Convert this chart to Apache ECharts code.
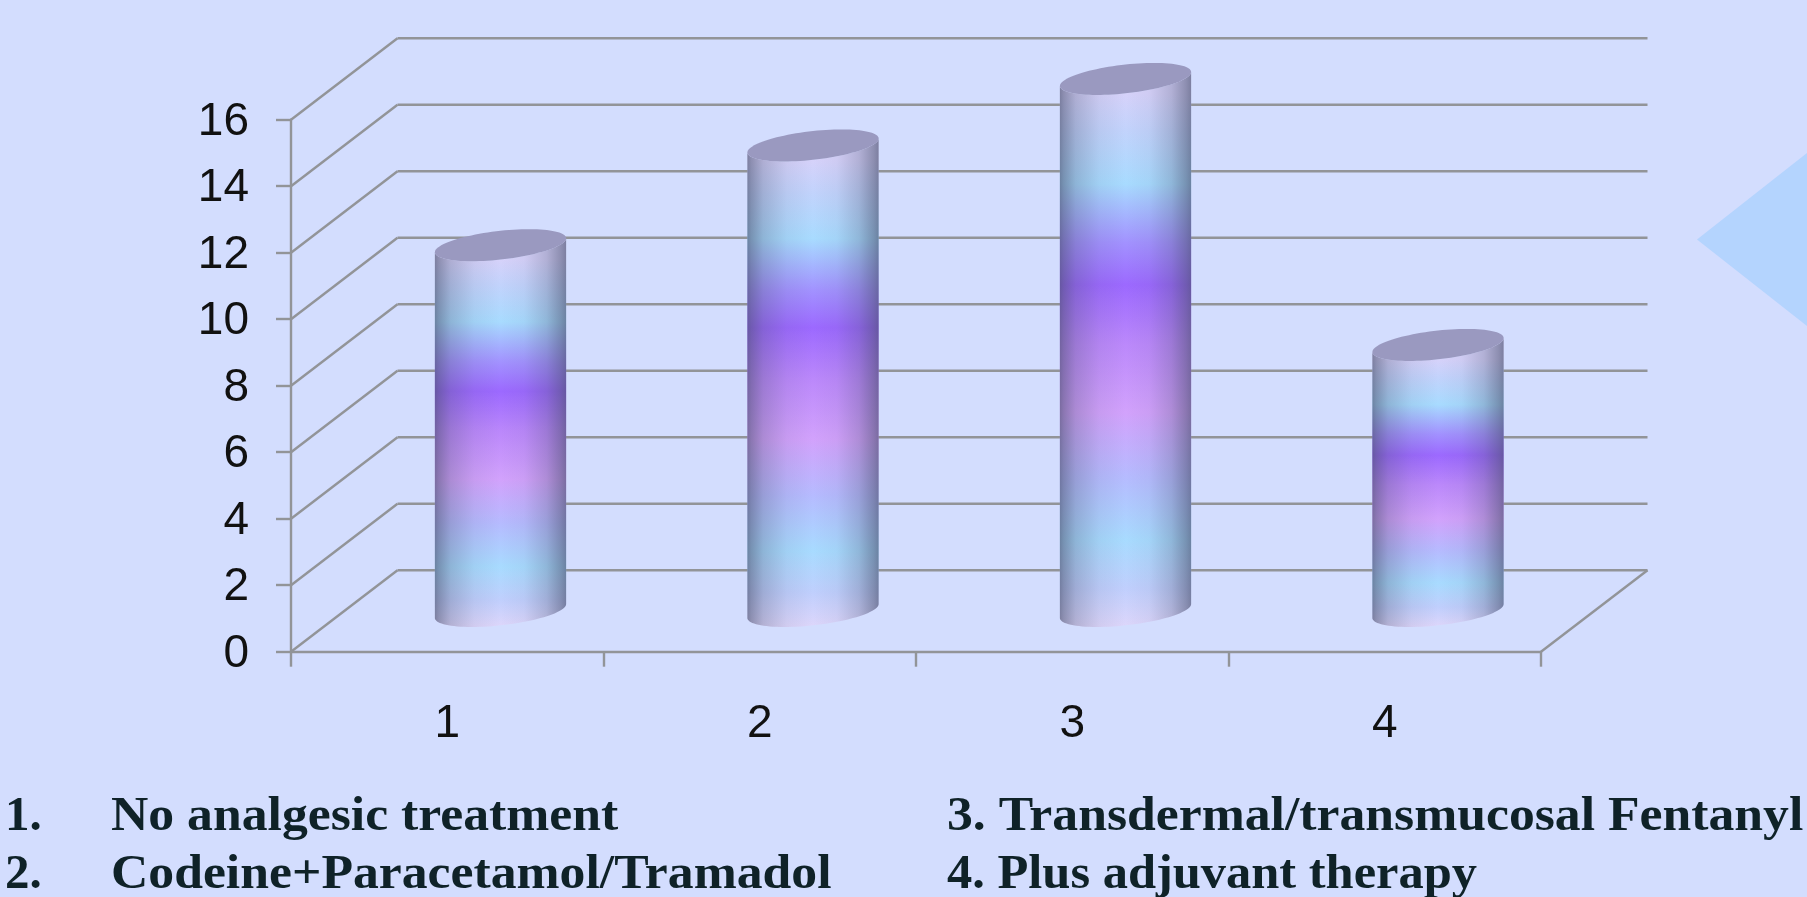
<!DOCTYPE html>
<html>
<head>
<meta charset="utf-8">
<title>Analgesic treatment groups</title>
<style>
  html, body { margin: 0; padding: 0; background: #d3ddfe; }
  #chart { width: 1807px; height: 897px; }
</style>
<script src="https://cdn.jsdelivr.net/npm/echarts@6/dist/echarts.min.js"></script>
</head>
<body>
<div id="chart"></div>
<script>
// Chart data
const categories = ['1', '2', '3', '4'];
const patientCounts = [11, 14, 16, 8];
const valueTicks = [0, 2, 4, 6, 8, 10, 12, 14, 16];
const legendNumbers = ['1.', '2.'];
const legendLeft = ['No analgesic treatment', 'Codeine+Paracetamol/Tramadol'];
const legendRight = ['3. Transdermal/transmucosal Fentanyl', '4. Plus adjuvant therapy'];

// Pseudo-3D look
const DEPTH_X = 106.5;
const DEPTH_Y = -81.5;
const GRID_COLOR = '#929498';
const WIDTH_RATIO = 0.42;
const TILT = 7;
const MINOR = 14.4;

// Rises from the front of the cylinder's base to the front of its top rim
const bodyStops = [
  [0, '#dcd6fb'], [0.07, '#c0cffd'], [0.16, '#a8dbff'], [0.28, '#b6bbff'], [0.40, '#d2a2fc'],
  [0.53, '#bb88fb'], [0.64, '#9c69ff'], [0.72, '#a292ff'], [0.83, '#a8dbff'], [0.93, '#c2d3fc'], [1, '#d6d2fa']
];
const shadeStops = [
  [0, 0.62], [0.03, 0.5], [0.12, 0.27], [0.3, 0.08], [0.5, 0], [0.68, 0.05], [0.85, 0.25], [0.96, 0.5], [1, 0.62]
];

function arc(cx, cy, a, from, to, steps) {
  const pts = [];
  for (let i = 0; i <= steps; i++) {
    const t = from + (to - from) * i / steps;
    pts.push([cx + a * Math.cos(t), cy - TILT * Math.cos(t) + MINOR * Math.sin(t)]);
  }
  return pts;
}

function renderWall(params, api) {
  const v = api.value(0);
  const band = api.size([1, 0])[0];
  const left = api.coord([0, v]);
  const right = api.coord([categories.length - 1, v]);
  const x0 = left[0] - band / 2;
  const x1 = right[0] + band / 2;
  const y = left[1];
  const lineStyle = { stroke: GRID_COLOR, lineWidth: 2.4, fill: null };
  const children = [
    { type: 'line', shape: { x1: x0, y1: y, x2: x0 + DEPTH_X, y2: y + DEPTH_Y }, style: lineStyle },
    { type: 'line', shape: { x1: x0 + DEPTH_X, y1: y + DEPTH_Y, x2: x1 + DEPTH_X, y2: y + DEPTH_Y }, style: lineStyle }
  ];
  if (v === 0) {
    children.push({ type: 'line', shape: { x1: x1, y1: y, x2: x1 + DEPTH_X, y2: y + DEPTH_Y }, style: lineStyle });
  }
  return { type: 'group', children };
}

function renderCylinder(params, api) {
  const top = api.coord([api.value(0), api.value(1)]);
  const base = api.coord([api.value(0), 0]);
  const a = api.size([1, 0])[0] * WIDTH_RATIO / 2;
  const cx = top[0] + DEPTH_X / 2;
  const topY = top[1] + DEPTH_Y / 2;
  const baseY = base[1] + DEPTH_Y / 2;
  const outline = arc(cx, baseY, a, 0, Math.PI, 48)
    .concat(arc(cx, topY, a, Math.PI, 0, 48));
  const body = {
    type: 'linear', global: true, x: cx, y: baseY + MINOR, x2: cx, y2: topY + MINOR,
    colorStops: bodyStops.map(s => ({ offset: s[0], color: s[1] }))
  };
  const shade = {
    type: 'linear', x: 0, y: 0, x2: 1, y2: 0,
    colorStops: shadeStops.map(s => ({ offset: s[0], color: 'rgba(70,76,105,' + s[1] + ')' }))
  };
  return {
    type: 'group',
    children: [
      { type: 'polygon', shape: { points: outline }, style: { fill: body } },
      { type: 'polygon', shape: { points: outline }, style: { fill: shade } },
      { type: 'polygon', shape: { points: arc(cx, topY, a, 0, Math.PI * 2, 96) }, style: { fill: '#9a99c0' } }
    ]
  };
}

// Caption rows beneath the chart
const CAPTION_FONT = 'bold 49px "Liberation Serif", serif';
function captionText(text, x, y, stretch) {
  return {
    type: 'text', x: x, y: y, scaleX: stretch, silent: true,
    style: { text: text, x: 0, y: 0, font: CAPTION_FONT, fill: '#0f2228', verticalAlign: 'bottom', align: 'left' }
  };
}
const captionRows = [842, 900];
const captions = [];
legendNumbers.forEach((t, i) => captions.push(captionText(t, 5, captionRows[i], 1.0)));
legendLeft.forEach((t, i) => captions.push(captionText(t, 111, captionRows[i], 1.055)));
legendRight.forEach((t, i) => captions.push(captionText(t, 947, captionRows[i], i === 0 ? 1.055 : 1.03)));

const chart = echarts.init(document.getElementById('chart'), null, { renderer: 'canvas' });
chart.setOption({
  animation: false,
  backgroundColor: '#d3ddfe',
  grid: { left: 291, right: 266, top: 119.7, bottom: 245.3 },
  xAxis: {
    type: 'category',
    data: categories,
    boundaryGap: true,
    axisLine: { show: true, lineStyle: { color: GRID_COLOR, width: 2.4 } },
    axisTick: { show: true, alignWithLabel: false, length: 15, lineStyle: { color: GRID_COLOR, width: 2.4 } },
    axisLabel: { color: '#111', fontFamily: '"Liberation Sans", Arial, sans-serif', fontSize: 46, margin: 50 },
    splitLine: { show: false }
  },
  yAxis: {
    type: 'value',
    min: 0,
    max: 16,
    interval: 2,
    axisLine: { show: true, lineStyle: { color: GRID_COLOR, width: 2.4 } },
    axisTick: { show: true, length: 15, lineStyle: { color: GRID_COLOR, width: 2.4 } },
    axisLabel: { color: '#111', fontFamily: '"Liberation Sans", Arial, sans-serif', fontSize: 46, margin: 42, verticalAlign: 'top', lineHeight: 5 },
    splitLine: { show: false }
  },
  graphic: [
    { type: 'polygon', silent: true, z: -1,
      shape: { points: [[1697, 239.5], [1807, 153], [1807, 326]] },
      style: { fill: '#b4d4fe' } }
  ].concat(captions),
  series: [
    {
      type: 'custom', name: 'walls', silent: true, z: 1,
      coordinateSystem: 'cartesian2d', clip: false,
      encode: { x: 1, y: 0 },
      data: valueTicks.map(v => [v, 0]),
      renderItem: renderWall
    },
    {
      type: 'custom', name: 'patients', silent: true, z: 2,
      coordinateSystem: 'cartesian2d', clip: false,
      encode: { x: 0, y: 1 },
      data: patientCounts.map((v, i) => [i, v]),
      renderItem: renderCylinder
    }
  ]
});
</script>
</body>
</html>
